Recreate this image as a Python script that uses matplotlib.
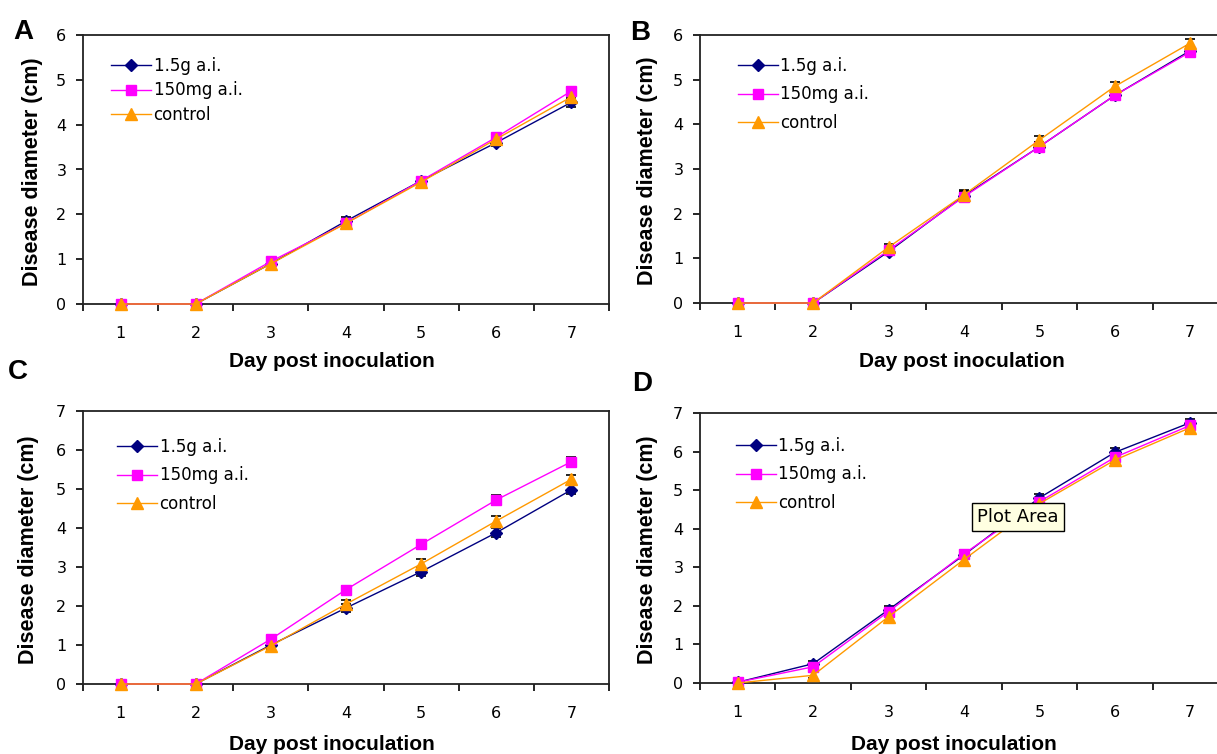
import matplotlib

matplotlib.use("Agg")

import matplotlib.pyplot as plt

W, H = 1217, 754

days = [1, 2, 3, 4, 5, 6, 7]
series_names = ["1.5g a.i.", "150mg a.i.", "control"]

# panel A
a_high = [0, 0, 0.9, 1.85, 2.75, 3.6, 4.5]
a_low = [0, 0, 0.95, 1.8, 2.75, 3.72, 4.75]
a_ctrl = [0, 0, 0.9, 1.8, 2.72, 3.68, 4.62]
a_err = [0, 0, 0.06, 0.08, 0.07, 0.08, 0.1]

# panel B
b_high = [0, 0, 1.15, 2.4, 3.5, 4.65, 5.65]
b_low = [0, 0, 1.18, 2.38, 3.5, 4.65, 5.62]
b_ctrl = [0, 0, 1.25, 2.42, 3.65, 4.85, 5.82]
b_err = [0, 0, 0.08, 0.1, 0.1, 0.1, 0.1]

# panel C
c_high = [0, 0, 1.0, 1.95, 2.88, 3.88, 4.98]
c_low = [0, 0, 1.15, 2.42, 3.58, 4.72, 5.7]
c_ctrl = [0, 0, 0.98, 2.05, 3.08, 4.18, 5.25]
c_err = [0, 0, 0.08, 0.1, 0.12, 0.12, 0.12]

# panel D
d_high = [0.02, 0.5, 1.9, 3.32, 4.8, 5.98, 6.75]
d_low = [0.02, 0.42, 1.85, 3.35, 4.7, 5.85, 6.68]
d_ctrl = [0, 0.2, 1.72, 3.2, 4.65, 5.78, 6.62]
d_err = [0.03, 0.08, 0.1, 0.1, 0.1, 0.1, 0.1]

colors = ["#000080", "#FF00FF", "#FF9900"]
markers = ["D", "s", "^"]
msizes = [6, 7.5, 8.5]


def fx(x):
    return x / W


def fy(y):
    return 1 - y / H


# pixel layout: left, right, top, bottom of plot area
panels = [
    dict(letter="A", box=(83, 609, 35, 304), ymax=6, data=(a_high, a_low, a_ctrl), err=a_err,
         lpos=(23, 32), ylab=(33, 172), xlab=(332, 362), leg=(111, 57), lsp=0.38),
    dict(letter="B", box=(700, 1228, 35, 303), ymax=6, data=(b_high, b_low, b_ctrl), err=b_err,
         lpos=(640, 33), ylab=(648, 171), xlab=(962, 362), leg=(738, 57), lsp=0.62),
    dict(letter="C", box=(83, 609, 411, 684), ymax=7, data=(c_high, c_low, c_ctrl), err=c_err,
         lpos=(18, 372), ylab=(29, 550), xlab=(332, 745), leg=(117, 438), lsp=0.62),
    dict(letter="D", box=(700, 1228, 413, 683), ymax=7, data=(d_high, d_low, d_ctrl), err=d_err,
         lpos=(642, 384), ylab=(648, 550), xlab=(954, 745), leg=(736, 437), lsp=0.62),
]

fig = plt.figure(figsize=(W / 100, H / 100), dpi=100)

for p in panels:
    l, r, t, b = p["box"]
    ax = fig.add_axes([fx(l), fy(b), (r - l) / W, (b - t) / H])
    for vals, name, c, m, ms in zip(p["data"], series_names, colors, markers, msizes):
        ax.errorbar(days, vals, yerr=p["err"], color=c, marker=m, markersize=ms,
                    markeredgecolor=c, linewidth=1.0, ecolor="black", elinewidth=1.0,
                    capsize=3.5, capthick=1.2, label=name, clip_on=False, zorder=3)
    ax.set_xlim(0.5, 7.5)
    ax.set_ylim(0, p["ymax"])
    ax.set_xticks(days)
    ax.set_xticks([d + 0.5 for d in range(0, 8)], minor=True)
    ax.set_yticks(range(0, p["ymax"] + 1))
    ax.tick_params(axis="x", which="major", length=0, pad=16, labelsize=11.5)
    ax.tick_params(axis="x", which="minor", length=5, width=1.2, direction="out")
    ax.tick_params(axis="y", length=5, width=1.2, pad=7, labelsize=11.5)
    for s in ax.spines.values():
        s.set_linewidth(1.3)
        s.set_color("#222222")

    ax.set_xlabel("Day post inoculation", fontsize=15, fontweight="bold",
                  family="Liberation Sans")
    ax.xaxis.set_label_coords(fx(p["xlab"][0]), fy(p["xlab"][1]), transform=fig.transFigure)
    ax.xaxis.label.set_verticalalignment("center")
    ax.set_ylabel("Disease diameter (cm)", fontsize=15.5, fontweight="bold",
                  family="Liberation Sans")
    ax.yaxis.set_label_coords(fx(p["ylab"][0]), fy(p["ylab"][1]), transform=fig.transFigure)
    ax.yaxis.label.set_verticalalignment("center")

    handles, labels = ax.get_legend_handles_labels()
    handles = [h[0] for h in handles]
    ax.legend(handles, labels, loc="upper left",
              bbox_to_anchor=(fx(p["leg"][0]), fy(p["leg"][1])),
              bbox_transform=fig.transFigure, frameon=False, fontsize=12,
              borderpad=0, borderaxespad=0, handlelength=2.4, handletextpad=0.15,
              labelspacing=p["lsp"])

    fig.text(fx(p["lpos"][0]), fy(p["lpos"][1]), p["letter"], fontsize=20,
             fontweight="heavy", family="Liberation Sans", ha="center", va="center")

    if p["letter"] == "D":
        fig.text(fx(1018), fy(517), "Plot Area", fontsize=13, ha="center", va="center",
                 bbox=dict(boxstyle="square,pad=0.3", facecolor="#FFFFE1",
                           edgecolor="black", linewidth=1.0), zorder=10)

fig.savefig("out.png", dpi=100)
